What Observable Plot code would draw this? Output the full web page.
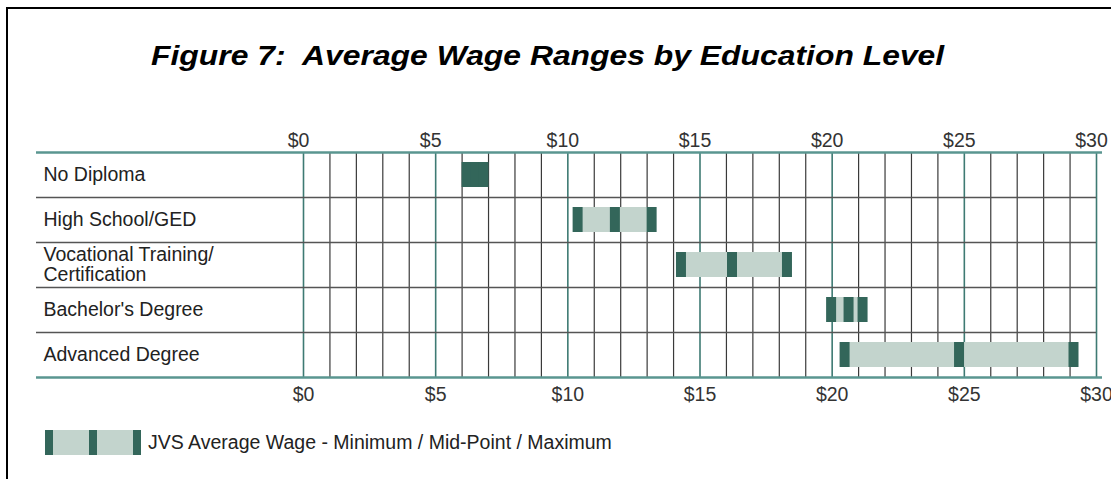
<!DOCTYPE html>
<html>
<head>
<meta charset="utf-8">
<script src="https://cdn.jsdelivr.net/npm/d3@7"></script>
<script src="https://cdn.jsdelivr.net/npm/@observablehq/plot@0.6"></script>
<style>
  html, body { margin: 0; padding: 0; background: #fff; }
  body { width: 1111px; height: 479px; position: relative; overflow: hidden; font-family: "Liberation Sans", Arial, sans-serif; }
  #frame { position: absolute; left: 6px; top: 7px; width: 1200px; height: 600px; border-top: 2px solid #000; border-left: 2px solid #000; }
  #chart { position: absolute; left: 0; top: 0; }
  #title { position: absolute; left: 151px; top: 43px; font-size: 27px; line-height: 27px; font-weight: bold; font-style: italic; color: #000; white-space: nowrap; transform: scaleX(1.18); transform-origin: left center; }
  #legend { position: absolute; left: 45px; top: 430px; height: 25px; display: flex; align-items: center; }
  #legend .sw { position: relative; width: 96px; height: 25px; background: #c3d4cd; }
  #legend .tk { position: absolute; top: 0; width: 8px; height: 25px; background: #33665a; }
  #legend .lab { margin-left: 7px; font-size: 19.5px; color: #222; white-space: nowrap; }
</style>
</head>
<body>
<div id="frame"></div>
<div id="chart"></div>
<div id="title">Figure 7:&nbsp; Average Wage Ranges by Education Level</div>
<div id="legend">
  <div class="sw"><div class="tk" style="left:0"></div><div class="tk" style="left:44px"></div><div class="tk" style="left:88px"></div></div>
  <div class="lab" id="legendLabel"></div>
</div>
<script>
// ---- data ----
const categories = ["No Diploma", "High School/GED", "Vocational Training/\nCertification", "Bachelor's Degree", "Advanced Degree"];
const minWage = [6.17, 10.37, 14.28, 19.96, 20.47];
const midWage = [6.49, 11.78, 16.21, 20.62, 24.80];
const maxWage = [6.81, 13.17, 18.29, 21.15, 29.13];
const xTickValues = [0, 5, 10, 15, 20, 25, 30];
const xTickLabels = ["$0", "$5", "$10", "$15", "$20", "$25", "$30"];
const gridValues = d3.range(0, 31);
const legendText = "JVS Average Wage - Minimum / Mid-Point / Maximum";

document.getElementById("legendLabel").textContent = legendText;

const rows = categories.map((c, i) => ({label: c, i, min: minWage[i], mid: midWage[i], max: maxWage[i]}));
const ticks = xTickValues.map((v, i) => ({v, label: xTickLabels[i]}));
const minorGrid = gridValues.filter(v => v % 5 !== 0);
const majorGrid = gridValues.filter(v => v % 5 === 0);

const dark = "#33665a";
const light = "#c3d4cd";
const teal = "#3e7a73";
const tealLine = "#5a9690";

const plot = Plot.plot({
  width: 1111,
  height: 479,
  marginLeft: 303,
  marginRight: 15,
  marginTop: 152,
  marginBottom: 102,
  style: {background: "transparent", fontFamily: "'Liberation Sans', Arial, sans-serif", overflow: "visible"},
  x: {domain: [0, 30], axis: null},
  y: {domain: [0, categories.length], reverse: true, axis: null},
  marks: [
    Plot.ruleX(minorGrid, {x: d => d, stroke: "#3a3a3a", strokeWidth: 1.2}),
    Plot.ruleX(majorGrid, {x: d => d, stroke: teal, strokeWidth: 1.6}),
    Plot.ruleY(d3.range(1, categories.length), {y: d => d, insetLeft: -267, stroke: "#555", strokeWidth: 1.5}),
    Plot.ruleY([0, categories.length], {y: d => d, insetLeft: -267, insetRight: -6, stroke: tealLine, strokeWidth: 2.5}),
    Plot.rect(rows, {x1: "min", x2: "max", y1: "i", y2: d => d.i + 1, insetTop: 10, insetBottom: 10, fill: light}),
    Plot.ruleX(rows, {x: "min", y1: "i", y2: d => d.i + 1, insetTop: 10, insetBottom: 10, stroke: dark, strokeWidth: 10}),
    Plot.ruleX(rows, {x: "mid", y1: "i", y2: d => d.i + 1, insetTop: 10, insetBottom: 10, stroke: dark, strokeWidth: 10}),
    Plot.ruleX(rows, {x: "max", y1: "i", y2: d => d.i + 1, insetTop: 10, insetBottom: 10, stroke: dark, strokeWidth: 10}),
    Plot.text(rows, {y: d => d.i + 0.5, text: "label", frameAnchor: "left", dx: -260, textAnchor: "start", lineAnchor: "middle", lineHeight: 1.02, fontSize: 19.5, fill: "#222"}),
    Plot.text(ticks, {x: "v", text: "label", frameAnchor: "top", lineAnchor: "bottom", dy: -6, dx: -5, fontSize: 19.5, fill: "#333"}),
    Plot.text(ticks, {x: "v", text: "label", frameAnchor: "bottom", lineAnchor: "top", dy: 10, fontSize: 19.5, fill: "#333"})
  ]
});
document.getElementById("chart").appendChild(plot);
</script>
</body>
</html>
